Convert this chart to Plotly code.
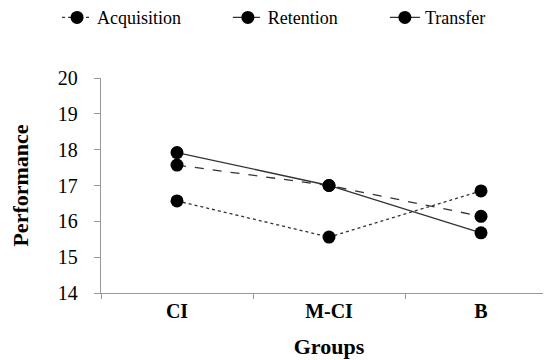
import plotly.graph_objects as go

groups = ["CI", "M-CI", "B"]
acquisition = [16.57, 15.56, 16.85]
retention = [17.57, 17.0, 16.14]
transfer = [17.92, 17.0, 15.68]
y_ticks = [14, 15, 16, 17, 18, 19, 20]

FONT = "Liberation Serif"

fig = go.Figure()
series = [
    ("Acquisition", acquisition, "dot", "#333333", "legend", 0.089),
    ("Retention", retention, "dash", "#333333", "legend2", 0.399),
    ("Transfer", transfer, "solid", "#333333", "legend3", 0.684),
]
legend_cfg = {}
for name, vals, dash, col, lg, lx in series:
    fig.add_trace(go.Scatter(
        x=groups, y=vals, name=name, mode="lines+markers",
        line=dict(color=col, width=1.3, dash=dash),
        marker=dict(color="black", size=13, symbol="circle"),
        legend=lg,
    ))
    legend_cfg[lg] = dict(
        orientation="h", xref="container", yref="container",
        x=lx, y=0.973, xanchor="left", yanchor="middle",
        font=dict(family=FONT, size=18, color="black"),
        bgcolor="rgba(0,0,0,0)",
    )

fig.update_layout(
    width=551, height=360,
    margin=dict(l=93, r=2, t=70, b=75, autoexpand=False),
    plot_bgcolor="white", paper_bgcolor="white",
    font=dict(family=FONT, color="black", size=18),
    showlegend=True,
    **legend_cfg,
    xaxis=dict(
        range=[-0.5, 2.5],
        showline=True, linecolor="#999999", linewidth=1.3,
        ticks="outside", ticklen=5, tickcolor="#999999", tickson="boundaries",
        showgrid=False, zeroline=False,
        tickfont=dict(family=FONT, size=20, color="black", weight="bold"),
        title=dict(text="<b>Groups</b>", font=dict(family=FONT, size=22, color="black"), standoff=17),
    ),
    yaxis=dict(
        range=[14, 20], tickvals=y_ticks,
        showline=True, linecolor="#999999", linewidth=1.3,
        ticks="outside", ticklen=6, tickcolor="#999999", ticklabelstandoff=12,
        showgrid=False, zeroline=False,
        tickfont=dict(family=FONT, size=20, color="black"),
        title=dict(text="<b>Performance</b>", font=dict(family=FONT, size=22, color="black"), standoff=26),
    ),
)

fig.write_html("out.html")
